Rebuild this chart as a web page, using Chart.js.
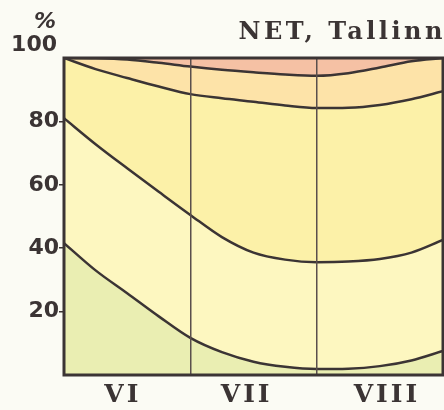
<!DOCTYPE html>
<html>
<head>
<meta charset="utf-8">
<script src="https://cdn.jsdelivr.net/npm/chart.js@4/dist/chart.umd.min.js"></script>
<style>
  body { margin: 0; background: #fbfbf4; }
  canvas { display: block; }
</style>
</head>
<body>
<canvas id="chart" width="444" height="410"></canvas>
<script>
// months across the x axis (0..3), read at quarter-month steps
var monthX = [0, 0.25, 0.5, 0.75, 1, 1.25, 1.5, 1.75, 2, 2.25, 2.5, 2.75, 3];
var curve1 = [100, 99.9, 99.5, 98.5, 97.3, 96.3, 95.5, 94.8, 94.4, 95.2, 97, 99, 100];
var curve2 = [100, 96.5, 93.7, 91, 88.6, 87.3, 86.2, 85, 84.2, 84.3, 85.2, 87, 89.5];
var curve3 = [81, 72.8, 65.2, 57.8, 50.5, 43.5, 38.6, 36.4, 35.6, 35.8, 36.6, 38.6, 42.6];
var curve4 = [41.6, 33, 25.8, 18.5, 11.7, 7.2, 4.2, 2.6, 1.9, 2.0, 2.8, 4.6, 7.6];

var monthLabels = ["VI", "VII", "VIII"];
var monthTickPos = [0.45, 1.43, 2.54];
var yTicks = [20, 40, 60, 80];

var ink = "#3b3434";

function pts(arr) {
    return arr.map((v, i) => ({ x: monthX[i], y: v }));
}

function line(data, fill, color) {
    return {
        data: pts(data),
        borderColor: ink,
        borderWidth: 2.5,
        pointRadius: 0,
        cubicInterpolationMode: "monotone",
        fill: fill,
        backgroundColor: color
    };
}

var decor = {
    id: "decor",
    beforeDatasetsDraw: function (chart) {
        var a = chart.chartArea, ctx = chart.ctx;
        ctx.save();
        ctx.fillStyle = "#eaeeb2";
        ctx.fillRect(a.left, a.top, a.right - a.left, a.bottom - a.top);
        ctx.restore();
    },
    afterDraw: function (chart) {
        var a = chart.chartArea, ctx = chart.ctx;
        var xs = chart.scales.x;
        ctx.save();
        ctx.strokeStyle = ink;
        ctx.lineWidth = 3;
        ctx.strokeRect(a.left, a.top, a.right - a.left, a.bottom - a.top);

        ctx.fillStyle = ink;
        ctx.textAlign = "right";
        ctx.textBaseline = "middle";
        ctx.font = "bold 22px 'DejaVu Sans'";
        ctx.fillText("100", 57, 45);
        ctx.font = "bold italic 22px 'DejaVu Sans'";
        ctx.fillText("%", 56, 22);

        ctx.letterSpacing = "3.5px";
        ctx.font = "bold 24px 'DejaVu Serif'";
        ctx.fillText("NET, Tallinn", 446, 33);

        ctx.letterSpacing = "3px";
        ctx.textAlign = "center";
        ctx.font = "bold 25px 'DejaVu Serif'";
        monthLabels.forEach(function (lab, i) {
            ctx.fillText(lab, xs.getPixelForValue(monthTickPos[i]) + 2, 395);
        });
        ctx.restore();
    }
};

var ctx = document.getElementById("chart").getContext("2d");
var chart = new Chart(ctx, {
    type: "line",
    data: {
        datasets: [
            line(curve1, "end", "#f5c1a4"),
            line(curve2, "-1", "#fde3a8"),
            line(curve3, "-1", "#fcf1a8"),
            line(curve4, "-1", "#fdf7c0")
        ]
    },
    options: {
        responsive: false,
        animation: false,
        layout: { padding: { top: 58, right: 1, left: 0, bottom: 0 } },
        plugins: { legend: { display: false }, tooltip: { enabled: false } },
        scales: {
            x: {
                type: "linear",
                min: 0,
                max: 3,
                afterBuildTicks: function (axis) {
                    axis.ticks = [1, 2].map(v => ({ value: v }));
                },
                afterFit: function (axis) { axis.height = 35; },
                ticks: { display: false },
                grid: {
                    z: 1,
                    color: "#5a4f4c",
                    lineWidth: 1.5,
                    drawTicks: false
                },
                border: { display: false }
            },
            y: {
                min: 0,
                max: 100,
                afterBuildTicks: function (axis) {
                    axis.ticks = yTicks.map(v => ({ value: v }));
                },
                afterFit: function (axis) { axis.width = 64; },
                ticks: {
                    padding: 0,
                    color: ink,
                    font: { family: "DejaVu Sans", weight: "bold", size: 22 }
                },
                grid: {
                    drawOnChartArea: false,
                    color: ink,
                    lineWidth: 1.5,
                    tickLength: 5
                },
                border: { display: false }
            }
        }
    },
    plugins: [decor]
});
</script>
</body>
</html>
